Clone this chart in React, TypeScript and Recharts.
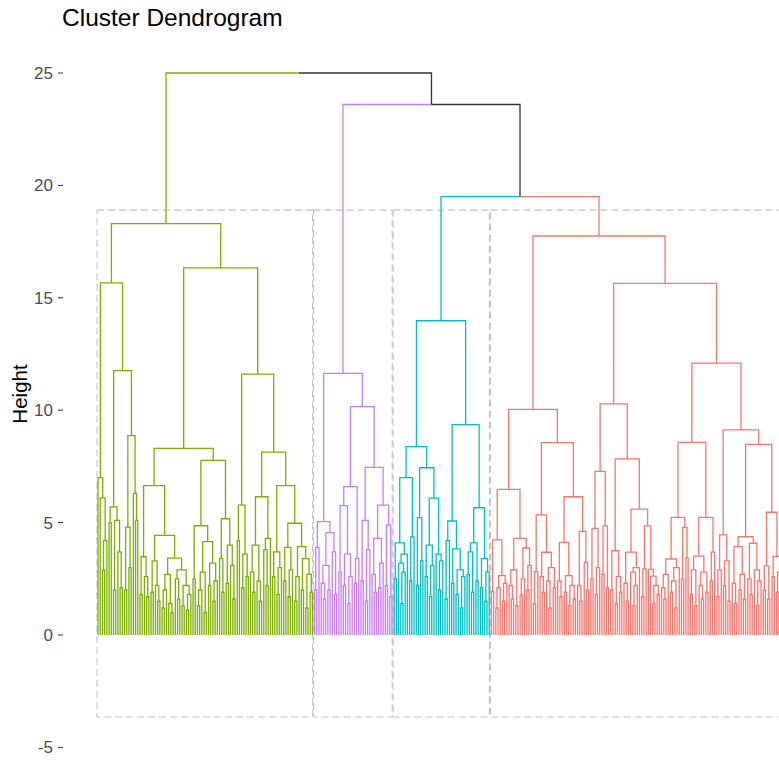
import { LineChart, Line, XAxis, YAxis, ReferenceArea } from "recharts";

// Cluster colours (ggplot hue palette, as in the picture)
const clusterColors = ["#7CAE00", "#C77CFF", "#00BFC4", "#F8766D"];
const joinColor = "#333333";

// Merge height between each pair of neighbouring leaves.
// The dendrogram is rebuilt from these: the largest gap in a range is where it splits.
const greenGaps = [
  7.0, 6.1, 2.9, 4.2, 15.66, 5.0, 5.7, 2.0, 5.1, 3.7,
  2.1, 11.76, 2.0, 4.8, 3.0, 8.87, 6.3, 5.1, 18.3, 1.8,
  3.48, 2.6, 1.7, 6.64, 1.9, 3.3, 2.2, 1.5, 4.43, 1.2,
  2.0, 2.7, 1.4, 1.0, 3.42, 2.5, 1.6, 2.9, 1.3, 2.2,
  1.1, 1.8, 8.3, 2.5, 4.86, 1.3, 2.0, 2.8, 1.0, 4.15,
  2.2, 3.2, 1.5, 2.4, 7.77, 3.4, 1.9, 5.17, 2.3, 4.0,
  3.1, 1.6, 16.33, 4.2, 5.78, 2.1, 3.6, 2.6, 11.6, 2.8,
  1.9, 4.0, 2.4, 1.5, 6.15, 3.8, 2.2, 4.3, 8.13, 2.6,
  3.7, 1.8, 3.0, 6.64, 2.4, 3.9, 1.7, 2.9, 4.97, 1.5,
  2.6, 3.93, 2.0, 3.4, 1.2, 2.7, 1.9,
];

const purpleGaps = [
  2.0, 3.9, 5.04, 2.3, 1.6, 3.1, 2.0, 4.55, 3.7, 1.8,
  11.64, 2.8, 5.75, 2.2, 3.6, 1.4, 2.6, 6.6, 2.3, 3.4,
  10.16, 2.4, 5.1, 1.5, 3.8, 7.46, 2.7, 1.9, 4.3, 2.1,
  3.2, 5.78, 2.2, 4.9, 1.7,
];

const cyanGaps = [
  2.5, 4.1, 3.2, 1.4, 2.8, 3.6, 7.0, 2.4, 4.36, 8.38,
  2.2, 5.22, 3.3, 7.44, 2.6, 4.0, 1.7, 3.1, 6.09, 3.6,
  2.0, 3.3, 13.98, 1.6, 4.2, 5.07, 2.3, 3.83, 1.8, 2.9,
  1.2, 2.6, 9.36, 2.7, 3.7, 1.9, 4.1, 2.4, 5.66, 2.1,
  3.4, 1.5, 2.8,
];

const redGaps = [
  1.93, 4.23, 1.2, 2.1, 2.64, 1.5, 2.3, 6.48, 2.2, 1.6,
  2.89, 1.3, 4.3, 1.78, 2.5, 3.87, 2.0, 3.1, 10.04, 1.4,
  2.82, 5.34, 2.6, 1.9, 3.68, 2.4, 1.2, 3.0, 2.1, 8.56,
  2.4, 1.7, 4.12, 1.9, 2.64, 1.3, 2.2, 1.6, 6.15, 2.2,
  1.5, 4.61, 3.23, 2.0, 17.75, 2.5, 4.74, 1.8, 3.0, 7.28,
  2.7, 4.85, 2.1, 10.28, 2.0, 3.75, 1.4, 2.6, 1.9, 7.83,
  2.3, 1.5, 3.69, 2.8, 1.3, 2.2, 3.0, 5.6, 1.7, 2.94,
  4.85, 2.92, 2.62, 1.4, 2.2, 1.8, 15.64, 2.1, 1.6, 2.7,
  3.38, 1.9, 2.4, 1.2, 3.0, 5.23, 2.5, 4.79, 3.44, 8.57,
  1.8, 2.9, 1.3, 3.51, 2.2, 1.6, 2.8, 1.9, 5.23, 2.4,
  3.69, 12.09, 1.7, 2.9, 4.45, 2.2, 3.3, 1.5, 9.12, 2.3,
  1.4, 3.93, 2.0, 2.7, 1.6, 4.37, 2.5, 1.8, 4.08, 2.9,
  1.3, 2.4, 8.48, 2.0, 3.07, 1.6, 5.46, 2.6, 3.5, 1.9,
  2.8, 1.4, 2.2,
];

// Heights where neighbouring clusters join: green|purple, purple|cyan, cyan|red
const joinHeights = [25.0, 23.6, 19.5];

const yTicks = [-5, 0, 5, 10, 15, 20, 25];
const rectTop = 18.9;
const rectBottom = -3.65;

type Node = { x: number; h: number; color: string; kids: Node[] };
type Pt = { x: number; y: number | null };

const clusterGaps = [greenGaps, purpleGaps, cyanGaps, redGaps];
const allGaps: number[] = [];
const leafColor: string[] = [];
const clusterRange: { start: number; end: number }[] = [];
clusterGaps.forEach((g, c) => {
  const start = leafColor.length;
  for (let i = 0; i <= g.length; i++) leafColor.push(clusterColors[c]);
  allGaps.push(...g);
  if (c < joinHeights.length) allGaps.push(joinHeights[c]);
  clusterRange.push({ start, end: leafColor.length - 1 });
});

function build(a: number, b: number): Node {
  if (a === b) return { x: a, h: 0, color: leafColor[a], kids: [] };
  let k = a;
  for (let i = a + 1; i < b; i++) if (allGaps[i] > allGaps[k]) k = i;
  const left = build(a, k);
  const right = build(k + 1, b);
  return {
    x: (left.x + right.x) / 2,
    h: allGaps[k],
    color: left.color === right.color ? left.color : joinColor,
    kids: [left, right],
  };
}

function collect(node: Node, out: Record<string, Pt[]>) {
  node.kids.forEach((kid) => {
    const pts = out[kid.color] || (out[kid.color] = []);
    pts.push(
      { x: node.x, y: node.h },
      { x: kid.x, y: node.h },
      { x: kid.x, y: kid.h },
      { x: kid.x, y: null }
    );
    collect(kid, out);
  });
}

const root = build(0, leafColor.length - 1);
const segments: Record<string, Pt[]> = {};
collect(root, segments);
const seriesColors = [...clusterColors, joinColor];

const font = "'Liberation Sans', Arial, sans-serif";

export default function App() {
  return (
    <div
      style={{
        position: "fixed",
        left: 0,
        top: 0,
        width: 779,
        height: 762,
        overflow: "hidden",
        background: "#fff",
      }}
    >
      <div
        style={{
          position: "absolute",
          left: 62,
          top: 5.5,
          fontFamily: font,
          fontSize: 24.5,
          lineHeight: 1,
          color: "#000",
          whiteSpace: "nowrap",
        }}
      >
        Cluster Dendrogram
      </div>
      <div
        style={{
          position: "absolute",
          left: 20,
          top: 394,
          transform: "translate(-50%, -50%) rotate(-90deg)",
          fontFamily: font,
          fontSize: 20.5,
          lineHeight: 1,
          color: "#000",
          whiteSpace: "nowrap",
        }}
      >
        Height
      </div>
      <LineChart
        width={830}
        height={762}
        margin={{ top: 39.3, right: 0, bottom: 3.4, left: 0 }}
      >
        <XAxis
          hide
          type="number"
          dataKey="x"
          domain={[-15.84, 331.2]}
          allowDataOverflow
        />
        <YAxis
          type="number"
          width={63}
          domain={[-5.5, 26.5]}
          ticks={yTicks}
          interval={0}
          axisLine={false}
          tickSize={5}
          tickMargin={5}
          tickLine={{ stroke: "#333333" }}
          tick={{ fill: "#4D4D4D", fontSize: 17, fontFamily: font }}
        />
        {seriesColors.map((col) => (
          <Line
            key={col}
            data={segments[col]}
            dataKey="y"
            type="linear"
            stroke={col}
            strokeWidth={1.3}
            dot={false}
            activeDot={false}
            connectNulls={false}
            isAnimationActive={false}
          />
        ))}
        {clusterRange.map((r, i) => (
          <ReferenceArea
            key={i}
            x1={r.start - 0.45}
            x2={r.end + 0.1}
            y1={rectBottom}
            y2={rectTop}
            fill="none"
            stroke="#C4C4C4"
            strokeWidth={1.1}
            strokeDasharray="7 4"
          />
        ))}
      </LineChart>
    </div>
  );
}
